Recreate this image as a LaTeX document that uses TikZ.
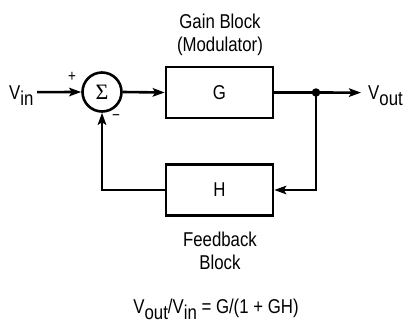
\documentclass[tikz,border=0pt]{standalone}
\usepackage{fontspec}
\setmainfont{Liberation Sans}[FakeStretch=0.84]
\newfontfamily\sigmafont{Liberation Serif}
\usetikzlibrary{arrows.meta,backgrounds}
\newcommand{\lowsub}[1]{\raisebox{-6pt}[0pt][0pt]{#1}}

\begin{document}
\begin{tikzpicture}[x=1pt,y=-1pt,
    show background rectangle, inner frame sep=0pt,
    background rectangle/.style={fill=white},
    font=\fontsize{20}{23}\selectfont, >={Stealth[length=12pt,width=8.5pt,inset=2.5pt]},
    blk/.style={rectangle,draw=black,line width=2.6pt,minimum width=107pt,
                minimum height=51pt,inner sep=0pt},
    summer/.style={circle,draw=black,line width=2.6pt,minimum size=39pt,inner sep=0pt},
    sign/.style={font=\fontsize{16}{18}\selectfont,inner sep=0pt},
    sig/.style={->,line width=2.6pt}]
  \useasboundingbox (0,0) rectangle (404,322);

  % forward path
  \node[anchor=base west,inner xsep=3.5pt,inner ysep=0pt] (vin) at (5.5,99) {V\lowsub{in}};
  \node[summer] (sum) at (102,92) {\sigmafont\fontsize{22}{23}\selectfont Σ};
  \node[blk] (gain) at (219.5,92.5) {G};
  \node[circle,fill=black,inner sep=0pt,minimum size=8.5pt] (tap) at (316,92.5) {};
  \node[anchor=base west,inner xsep=7pt,inner ysep=0pt] (vout) at (361,99.5) {V\lowsub{out}};

  % feedback path
  \node[blk] (fb) at (219.5,190) {H};

  \node[sign] (plus) at (72,77) {+};
  \node[sign] (minus) at (116,118) {−};

  \draw[sig] (vin.east) -- (sum.west);
  \draw[sig] (sum.east) -- (gain.west);
  \draw[line width=2.6pt] (gain.east) -- (tap.center);
  \draw[sig] (tap.center) -- (vout.west);
  \draw[sig] (tap.center) |- (fb.east);
  \draw[sig] (fb.west) -| (sum.south);

  % captions
  \node[align=center] (gaincap) at (220,35) {Gain Block\\(Modulator)};
  \node[align=center] (fbcap) at (220,251) {Feedback\\Block};
  \node[anchor=base] (ratio) at (216,313) {V\lowsub{out}/V\lowsub{in} = G/(1 + GH)};
\end{tikzpicture}
\end{document}
